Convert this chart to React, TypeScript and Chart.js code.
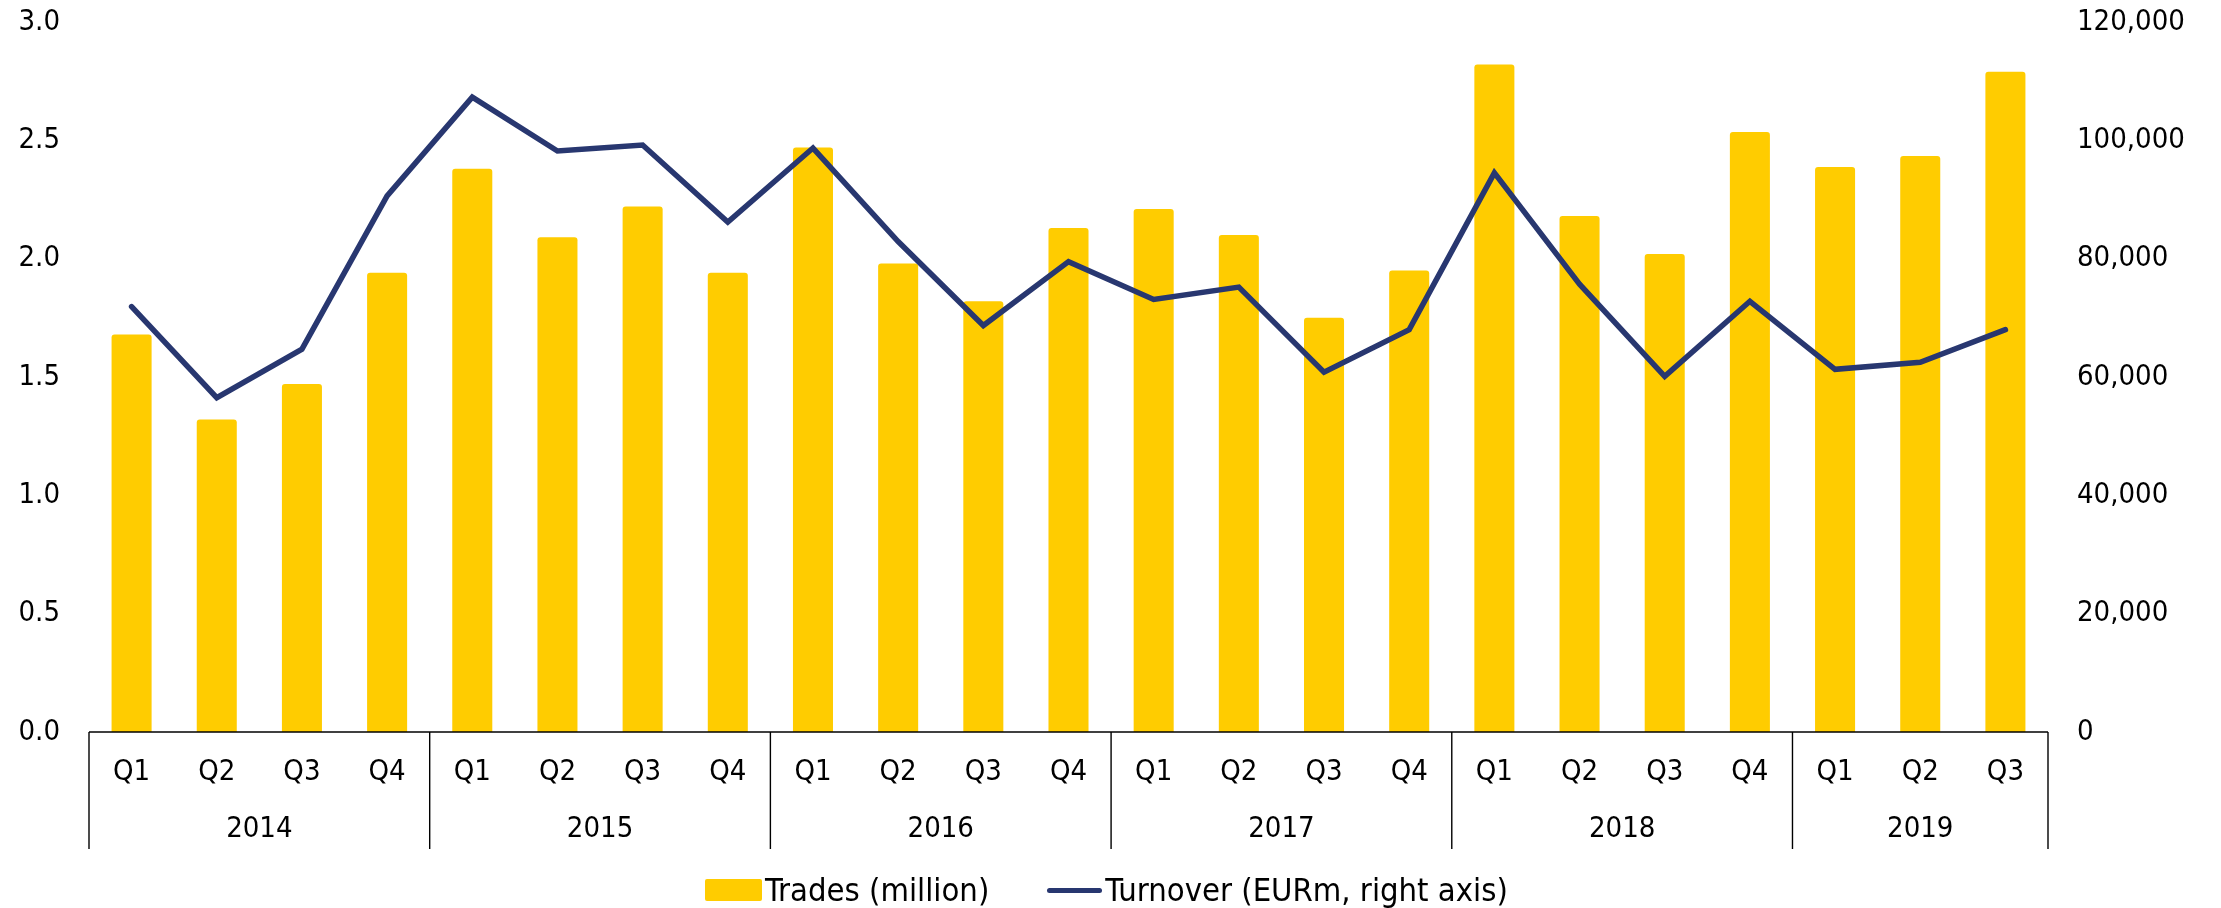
import React, { useEffect, useRef } from 'react';
import { Chart, registerables } from 'chart.js';

Chart.register(...registerables);

const quarterLabels = ['Q1', 'Q2', 'Q3', 'Q4', 'Q1', 'Q2', 'Q3', 'Q4', 'Q1', 'Q2', 'Q3', 'Q4', 'Q1', 'Q2', 'Q3', 'Q4', 'Q1', 'Q2', 'Q3', 'Q4', 'Q1', 'Q2', 'Q3'];
const yearLabels = ['2014', '2015', '2016', '2017', '2018', '2019'];
const quartersPerYear = [4, 4, 4, 4, 4, 3];
const tradesMillion = [1.68, 1.32, 1.47, 1.94, 2.38, 2.09, 2.22, 1.94, 2.47, 1.98, 1.82, 2.13, 2.21, 2.10, 1.75, 1.95, 2.82, 2.18, 2.02, 2.535, 2.387, 2.434, 2.79];
const turnoverEURm = [71900, 56500, 64700, 90600, 107300, 98200, 99200, 86200, 98700, 82900, 68700, 79500, 73100, 75200, 60800, 68000, 94500, 75700, 60100, 72800, 61300, 62500, 68000];

const FONT = "'DejaVu Sans Condensed', 'Liberation Sans Narrow', 'DejaVu Sans', sans-serif";
const BAR_COLOR = '#FFCC00';
const LINE_COLOR = '#283770';

const yearAxisPlugin = {
  id: 'yearAxis',
  afterDatasetsDraw(chart: any) {
    const { ctx, chartArea, scales } = chart;
    const x = scales.x;
    const bottom = chartArea.bottom;
    const cw = x.getPixelForValue(1) - x.getPixelForValue(0);
    ctx.save();
    ctx.strokeStyle = '#000';
    ctx.lineWidth = 1.4;
    ctx.beginPath();
    ctx.moveTo(chartArea.left, bottom);
    ctx.lineTo(chartArea.right, bottom);
    ctx.stroke();
    let idx = 0;
    const edges: number[] = [];
    edges.push(x.getPixelForValue(0) - cw / 2);
    ctx.fillStyle = '#000';
    ctx.font = `29px ${FONT}`;
    ctx.textAlign = 'center';
    ctx.textBaseline = 'middle';
    quartersPerYear.forEach((n, i) => {
      const l = x.getPixelForValue(idx) - cw / 2;
      const r = x.getPixelForValue(idx + n - 1) + cw / 2;
      edges.push(r);
      ctx.fillText(yearLabels[i], (l + r) / 2, bottom + 97);
      idx += n;
    });
    ctx.beginPath();
    edges.forEach((e) => {
      ctx.moveTo(e, bottom);
      ctx.lineTo(e, bottom + 117);
    });
    ctx.stroke();
    ctx.restore();
  },
};

export default function App() {
  const canvasRef = useRef<HTMLCanvasElement | null>(null);

  useEffect(() => {
    if (!canvasRef.current) return;
    const chart = new Chart(canvasRef.current, {
      type: 'bar',
      data: {
        labels: quarterLabels,
        datasets: [
          {
            type: 'line',
            label: 'Turnover (EURm, right axis)',
            data: turnoverEURm,
            yAxisID: 'y1',
            borderColor: LINE_COLOR,
            backgroundColor: LINE_COLOR,
            borderWidth: 5.5,
            pointRadius: 0,
            tension: 0,
            borderJoinStyle: 'miter',
            borderCapStyle: 'round',
            order: 1,
          } as any,
          {
            type: 'bar',
            label: 'Trades (million)',
            data: tradesMillion,
            yAxisID: 'y',
            backgroundColor: BAR_COLOR,
            barPercentage: 0.47,
            categoryPercentage: 1,
            borderRadius: { topLeft: 3, topRight: 3, bottomLeft: 0, bottomRight: 0 },
            borderSkipped: 'bottom',
            order: 2,
          } as any,
        ],
      },
      options: {
        responsive: false,
        animation: false,
        devicePixelRatio: 1,
        layout: { padding: { top: 22, left: 0, right: 0, bottom: 0 } },
        plugins: {
          legend: { display: false },
          tooltip: { enabled: false },
        },
        scales: {
          x: {
            grid: { display: false, drawTicks: false },
            border: { display: false },
            ticks: {
              font: { family: FONT, size: 29 },
              color: '#000',
              padding: 23,
              maxRotation: 0,
              autoSkip: false,
            },
            afterFit(scale: any) {
              scale.height = 176;
            },
          },
          y: {
            position: 'left',
            min: 0,
            max: 3,
            grid: { display: false, drawTicks: false },
            border: { display: false },
            ticks: {
              stepSize: 0.5,
              font: { family: FONT, size: 29 },
              color: '#000',
              padding: 29,
              callback: (v: any) => Number(v).toFixed(1),
            },
            afterFit(scale: any) {
              scale.width = 89;
              scale.paddingTop = 0;
              scale.paddingBottom = 0;
            },
          },
          y1: {
            position: 'right',
            min: 0,
            max: 120000,
            grid: { display: false, drawTicks: false },
            border: { display: false },
            ticks: {
              stepSize: 20000,
              font: { family: FONT, size: 29 },
              color: '#000',
              padding: 29,
              callback: (v: any) => Number(v).toLocaleString('en-US'),
            },
            afterFit(scale: any) {
              scale.width = 173;
              scale.paddingTop = 0;
              scale.paddingBottom = 0;
            },
          },
        },
      },
      plugins: [yearAxisPlugin],
    });
    return () => chart.destroy();
  }, []);

  const textStyle: React.CSSProperties = {
    fontFamily: FONT,
    fontSize: 32.5,
    color: '#000',
    lineHeight: '38px',
    whiteSpace: 'nowrap',
  };

  return (
    <div style={{ position: 'absolute', left: 0, top: 0, width: 2221, height: 908, background: '#fff' }}>
      <canvas ref={canvasRef} width={2221} height={908} style={{ display: 'block' }} />
      <div style={{ position: 'absolute', left: 705, top: 871, display: 'flex', alignItems: 'center' }}>
        <div style={{ width: 57, height: 22, background: BAR_COLOR, borderRadius: 2 }} />
        <span style={{ ...textStyle, marginLeft: 3 }}>Trades (million)</span>
        <div style={{ width: 55, height: 5, background: LINE_COLOR, borderRadius: 3, marginLeft: 58 }} />
        <span style={{ ...textStyle, marginLeft: 3 }}>Turnover (EURm, right axis)</span>
      </div>
    </div>
  );
}
